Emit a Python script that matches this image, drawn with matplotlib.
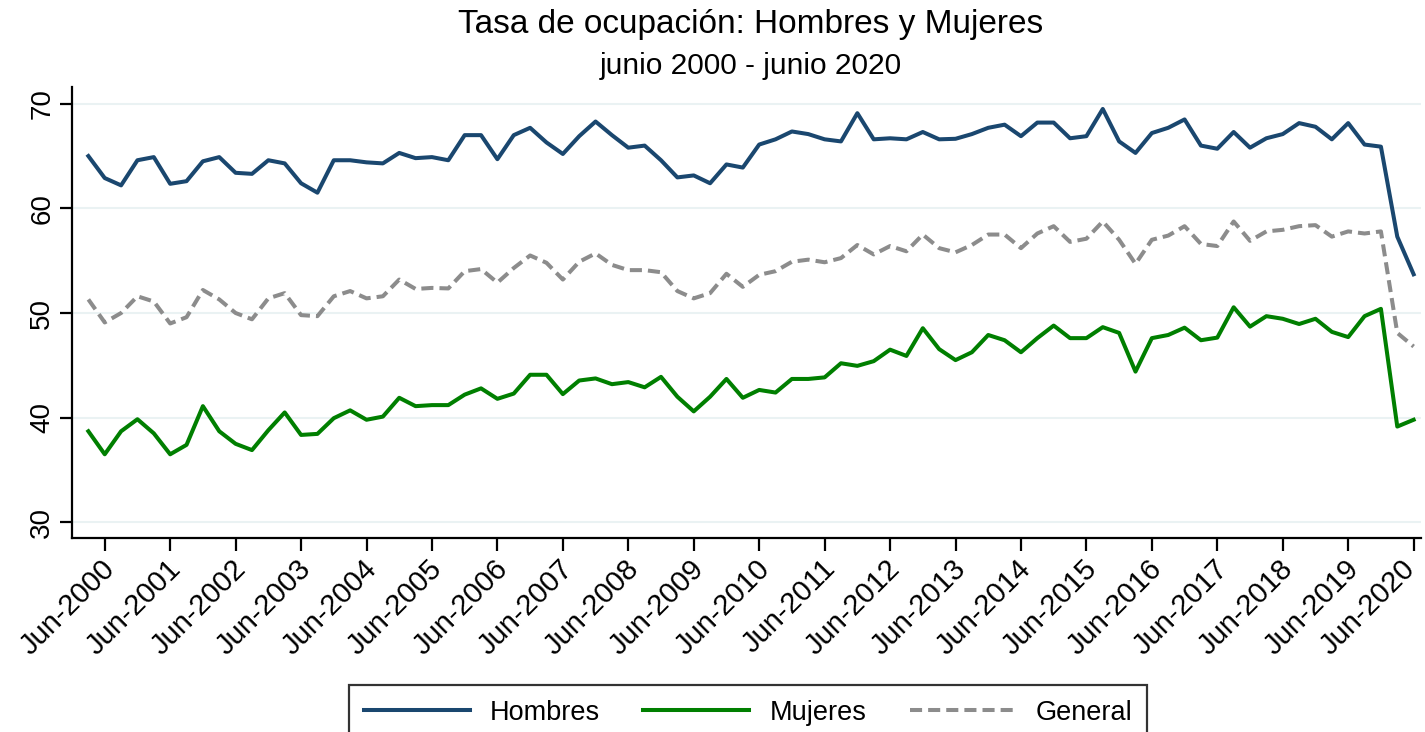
import matplotlib
matplotlib.use("Agg")
import matplotlib.pyplot as plt
import matplotlib.transforms as mtransforms

plt.rcParams['font.family'] = ['Liberation Sans', 'DejaVu Sans']

# quarterly, Mar-2000 .. Jun-2020
quarters = []
for y in range(2000, 2021):
    for m in ['Mar', 'Jun', 'Sep', 'Dec']:
        quarters.append(f"{m}-{y}")
quarters = quarters[:82]

hombres = [65.0, 62.9, 62.2, 64.6, 64.9, 62.35, 62.6, 64.5, 64.9, 63.4,
           63.3, 64.6, 64.3, 62.4, 61.5, 64.6, 64.6, 64.4, 64.3, 65.3,
           64.8, 64.9, 64.6, 67.0, 67.0, 64.7, 67.0, 67.7, 66.3, 65.2,
           66.9, 68.3, 67.0, 65.8, 66.0, 64.6, 62.96, 63.15, 62.4, 64.2,
           63.9, 66.1, 66.6, 67.35, 67.1, 66.6, 66.4, 69.1, 66.6, 66.7,
           66.6, 67.3, 66.6, 66.65, 67.1, 67.7, 68.0, 66.9, 68.2, 68.2,
           66.7, 66.9, 69.5, 66.4, 65.3, 67.2, 67.7, 68.5, 66.0, 65.7,
           67.3, 65.8, 66.7, 67.1, 68.15, 67.8, 66.6, 68.15, 66.1, 65.9,
           57.3, 53.7]

mujeres = [38.7, 36.5, 38.7, 39.85, 38.5, 36.5, 37.4, 41.1, 38.7, 37.5,
           36.9, 38.8, 40.5, 38.35, 38.45, 39.95, 40.7, 39.8, 40.1, 41.9,
           41.1, 41.2, 41.2, 42.2, 42.8, 41.8, 42.3, 44.1, 44.1, 42.25,
           43.55, 43.75, 43.2, 43.4, 42.9, 43.9, 42.0, 40.6, 42.0, 43.7,
           41.9, 42.65, 42.4, 43.7, 43.7, 43.85, 45.2, 44.95, 45.4, 46.5,
           45.9, 48.55, 46.55, 45.5, 46.25, 47.9, 47.4, 46.25, 47.6, 48.8,
           47.6, 47.6, 48.65, 48.1, 44.4, 47.6, 47.9, 48.6, 47.4, 47.65,
           50.55, 48.7, 49.7, 49.45, 48.95, 49.45, 48.2, 47.7, 49.7, 50.4,
           39.15, 39.8]

general = [51.3, 49.1, 50.0, 51.6, 51.1, 49.0, 49.6, 52.2, 51.3, 50.0,
           49.4, 51.4, 51.9, 49.8, 49.7, 51.6, 52.1, 51.4, 51.6, 53.2,
           52.3, 52.4, 52.35, 54.0, 54.2, 52.9, 54.3, 55.5, 54.8, 53.2,
           54.9, 55.7, 54.6, 54.1, 54.1, 53.9, 52.1, 51.4, 51.9, 53.75,
           52.5, 53.65, 54.0, 54.9, 55.1, 54.85, 55.25, 56.5, 55.6, 56.4,
           55.9, 57.5, 56.2, 55.8, 56.5, 57.5, 57.5, 56.2, 57.6, 58.3,
           56.8, 57.1, 58.75, 57.0, 54.7, 57.0, 57.4, 58.3, 56.6, 56.4,
           58.75, 56.9, 57.8, 57.95, 58.3, 58.4, 57.3, 57.8, 57.6, 57.8,
           48.1, 46.8]

yticks = [30, 40, 50, 60, 70]

x = list(range(len(quarters)))
june_idx = [i for i, q in enumerate(quarters) if q.startswith('Jun')]
june_labels = [quarters[i] for i in june_idx]

fig = plt.figure(figsize=(14.25, 7.32), dpi=100)
ax = fig.add_axes([72/1425, 1 - 538/732, (1421 - 72)/1425, (538 - 87)/732])

ax.plot(x, hombres, color='#1a476f', lw=2.9, label='Hombres')
ax.plot(x, mujeres, color='#007f00', lw=2.9, label='Mujeres')
ax.plot(x, general, color='#8c8c8c', lw=2.9, ls=(0, (3.0, 1.5)), label='General')

ax.set_xlim(-1.0, 81.45)
ax.set_ylim(28.5, 71.6)
ax.set_yticks(yticks)
ax.set_yticklabels([str(v) for v in yticks], rotation=90, va='center', fontsize=20)
ax.set_xticks(june_idx)
ax.set_xticklabels(june_labels, rotation=45, ha='right', rotation_mode='anchor', fontsize=21)

ax.grid(axis='y', color='#eaf2f3', lw=1.5)
ax.set_axisbelow(True)
for s in ['top', 'right']:
    ax.spines[s].set_visible(False)
for s in ['left', 'bottom']:
    ax.spines[s].set_linewidth(1.6)
ax.tick_params(axis='both', length=9, width=1.6, color='black', pad=3)

# nudge rotated labels a bit left (after tick_params, which resets transforms);
# the last one a little more so it stays inside the figure
labels = ax.get_xticklabels()
for k, lab in enumerate(labels):
    dx = -4 if k < len(labels) - 1 else -13
    lab.set_transform(lab.get_transform() + mtransforms.ScaledTranslation(dx/100, 0, fig.dpi_scale_trans))

fig.text(0.527, 1 - 24/732, 'Tasa de ocupación: Hombres y Mujeres', ha='center', va='center', fontsize=24)
fig.text(0.527, 1 - 66/732, 'junio 2000 - junio 2020', ha='center', va='center', fontsize=21.5)

leg = fig.legend(loc='upper center', bbox_to_anchor=(0.525, 1 - 685/732), ncol=3,
                 fontsize=19.5, frameon=True, fancybox=False, edgecolor='black',
                 handlelength=3.9, handletextpad=0.75, columnspacing=1.6,
                 borderpad=0.55, borderaxespad=0)
leg.get_frame().set_linewidth(1.6)

fig.savefig('out.png', dpi=100)
